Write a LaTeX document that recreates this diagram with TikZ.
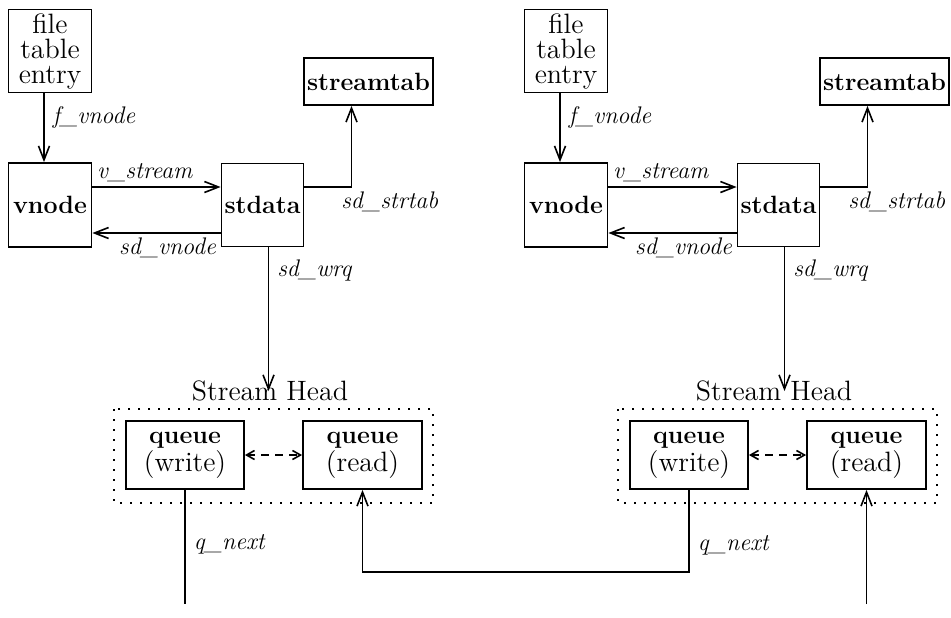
\documentclass[tikz,border=0pt]{standalone}
\usepackage{tikz}
\usetikzlibrary{arrows.meta}
\newcommand{\bnm}[1]{{\fontsize{12.5}{12.5}\selectfont\bfseries #1}}
\tikzstyle{blk} = [draw=black, line width=0.9pt, inner sep=1pt, align=center, font=\fontsize{14}{12.5}\selectfont]
\tikzstyle{lbl} = [font=\fontsize{12}{12}\selectfont\itshape, inner sep=2pt]
\tikzstyle{arr} = [line width=0.8pt, -{Straight Barb[length=7pt,width=5.5pt]}]
\tikzstyle{dbl} = [line width=0.8pt, dash pattern=on 4pt off 3pt, {Straight Barb[length=4pt,width=4.5pt]}-{Straight Barb[length=4pt,width=4.5pt]}]
\tikzstyle{dots} = [line width=1pt, dash pattern=on 1pt off 4pt]

\begin{document}
\begin{tikzpicture}[x=0.5pt, y=-0.5pt]
\useasboundingbox (0,0) rectangle (951,617);
\coordinate (low) at (0,572);
\coordinate (bot) at (0,604);
% two streams, upper and lower parts shifted a bit differently
\foreach \p/\u/\w/\k in {L/0/0/-7.5, R/516/504/-12} {
  \node[blk, minimum width=41.5pt, minimum height=41.5pt] (\p-fte) at (\u+50,51) {file\\table\\entry};
  \node[blk, minimum width=41.5pt, minimum height=42pt] (\p-vn) at (\u+50,205) {\bnm{vnode}};
  \node[blk, minimum width=41pt, minimum height=41.5pt] (\p-sd) at (\u+262.5,205) {\bnm{stdata}};
  \node[blk, minimum width=64.5pt, minimum height=23.5pt] (\p-st) at (\u+368.5,81.5) {\bnm{streamtab}};
  \node[font=\fontsize{14}{14}\selectfont, inner sep=0pt] (\p-sh) at (\w+270,391) {Stream Head};
  \draw[dots] (\w+114,409) rectangle (\w+433,503);
  \node[blk, minimum width=59pt, minimum height=34pt] (\p-qw) at (\w+185,455) {\bnm{queue}\\(write)};
  \node[blk, minimum width=59.5pt, minimum height=34pt] (\p-qr) at (\w+362.5,455) {\bnm{queue}\\(read)};

  \draw[arr] ([xshift=-3pt]\p-fte.south) -- ([xshift=-3pt]\p-vn.north) node[lbl, right, pos=.35, xshift=2pt] {f\_vnode};
  \draw[arr] ([yshift=9pt]\p-vn.east) -- ([yshift=9pt]\p-sd.west) node[lbl, anchor=south west, pos=0] {v\_stream};
  \draw[arr] ([yshift=-14pt]\p-sd.west) -- ([yshift=-14pt]\p-vn.east) node[lbl, anchor=north east, pos=0] {sd\_vnode};
  \draw[arr] ([yshift=9pt]\p-sd.east) -| ([xshift=-8.5pt]\p-st.south) node[lbl, anchor=north west, pos=.5, xshift=\k pt] {sd\_strtab};
  \draw[arr] ([xshift=3pt]\p-sd.south) -- ([xshift=3pt]\p-sd.south |- \p-sh.center) node[lbl, right, pos=.16, xshift=2pt] {sd\_wrq};
  \draw[dbl] (\p-qw) -- (\p-qr);
}
\draw[line width=0.8pt] (L-qw.south) -- (L-qw.south |- bot) node[lbl, right, pos=.48, xshift=2pt] {q\_next};
\draw[arr] (R-qw.south) -- (R-qw.south |- low) node[lbl, right, pos=.67, xshift=2pt] {q\_next} -| (L-qr.south);
\draw[arr] (R-qr.south |- bot) -- (R-qr.south);
\end{tikzpicture}
\end{document}
